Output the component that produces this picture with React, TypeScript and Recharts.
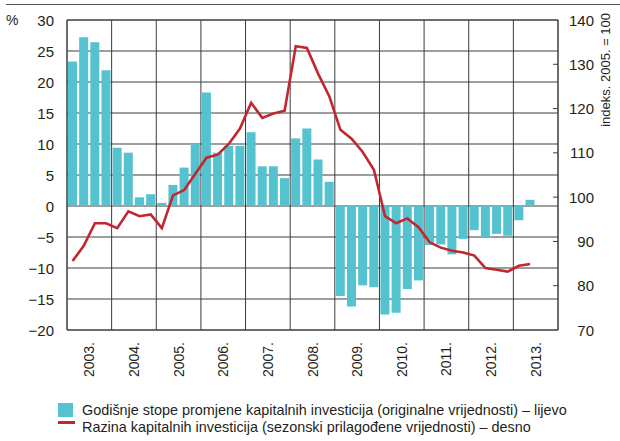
import React from 'react';
import { ComposedChart, Bar, Line, XAxis, YAxis, CartesianGrid, ReferenceArea } from 'recharts';

const years = ['2003.', '2004.', '2005.', '2006.', '2007.', '2008.', '2009.', '2010.', '2011.', '2012.', '2013.'];

// Annual rates of change of capital investment (original values), % – left axis, quarterly 2003Q1–2013Q2
const growthRates = [
  23.3, 27.2, 26.4, 21.9,
  9.4, 8.6, 1.4, 1.9,
  0.5, 3.4, 6.2, 10.0,
  18.3, 8.6, 9.7, 9.7,
  11.9, 6.4, 6.4, 4.5,
  10.9, 12.5, 7.5, 3.9,
  -14.5, -16.2, -12.8, -13.1,
  -17.5, -17.2, -13.4, -12.0,
  -6.3, -6.2, -7.8, -5.3,
  -3.9, -5.0, -4.5, -4.8,
  -2.3, 1.0,
];

// Level of capital investment (seasonally adjusted), index 2005 = 100 – right axis
const levelIndex = [
  85.6, 89.0, 94.1, 94.1,
  93.0, 96.8, 95.7, 96.1,
  93.0, 100.4, 101.6, 105.3,
  108.9, 109.6, 112.0, 115.5,
  121.3, 117.9, 118.9, 119.5,
  134.1, 133.7, 127.9, 122.8,
  115.2, 113.2, 110.2, 106.2,
  95.7, 94.1, 95.2, 93.2,
  89.8, 88.6, 87.9, 87.5,
  86.8, 84.0, 83.6, 83.2,
  84.5, 84.9,
];

const leftTicks = [-20, -15, -10, -5, 0, 5, 10, 15, 20, 25, 30];
const rightTicks = [70, 80, 90, 100, 110, 120, 130, 140];

const QUARTERS_PER_YEAR = 4;
const totalQuarters = years.length * QUARTERS_PER_YEAR;
const yearBoundaries = Array.from({ length: years.length + 1 }, (_, i) => i * QUARTERS_PER_YEAR);
const yearCenters = years.map((_, i) => i * QUARTERS_PER_YEAR + QUARTERS_PER_YEAR / 2);

const data = growthRates.map((g, i) => ({
  x: i + 0.5,
  growth: g,
  level: levelIndex[i],
}));

const FONT = '"Liberation Sans", Arial, sans-serif';
const TEXT_COLOR = '#231f20';
const BAR_COLOR = '#55c3cf';
const LINE_COLOR = '#c1272d';
const GRID_COLOR = '#3c3c3c';
const RIGHT_TICK_GAP = 36;

const YearTick = (props: any) => {
  const { x, y, payload } = props;
  const idx = yearCenters.indexOf(payload.value);
  const label = idx >= 0 ? years[idx] : '';
  return (
    <text
      x={x}
      y={y}
      transform={`rotate(-90, ${x}, ${y})`}
      textAnchor="end"
      dominantBaseline="central"
      fontFamily={FONT}
      fontSize={14}
      fill={TEXT_COLOR}
    >
      {label}
    </text>
  );
};

const LeftTick = (props: any) => {
  const { x, y, payload } = props;
  const v = payload.value;
  const label = v < 0 ? `\u2212${Math.abs(v)}` : `${v}`;
  return (
    <text x={x} y={y} textAnchor="end" dominantBaseline="central" fontFamily={FONT} fontSize={15} fill={TEXT_COLOR}>
      {label}
    </text>
  );
};

const RightTick = (props: any) => {
  const { x, y, payload } = props;
  const axisX = x - RIGHT_TICK_GAP;
  const v = payload.value;
  const edge = v === rightTicks[0] || v === rightTicks[rightTicks.length - 1];
  return (
    <g>
      {!edge && <line x1={axisX - 5} x2={axisX} y1={y} y2={y} stroke={GRID_COLOR} strokeWidth={1} />}
      <text x={x} y={y} textAnchor="end" dominantBaseline="central" fontFamily={FONT} fontSize={15} fill={TEXT_COLOR}>
        {v}
      </text>
    </g>
  );
};

export default function App() {
  return (
    <div style={{ position: 'absolute', left: 0, top: 0, width: 620, height: 441, background: '#fff', fontFamily: FONT, color: TEXT_COLOR }}>
      <div style={{ position: 'absolute', left: 6, top: 4, width: 614, height: 1, background: '#555' }} />
      <ComposedChart
        width={620}
        height={385}
        data={data}
        margin={{ top: 20, right: 0, left: 0, bottom: 0 }}
      >
        <CartesianGrid
          yAxisId="left"
          stroke={GRID_COLOR}
          strokeWidth={1}
          verticalValues={yearBoundaries}
        />
        <XAxis
          type="number"
          dataKey="x"
          domain={[0, totalQuarters]}
          ticks={yearCenters}
          interval={0}
          tickLine={false}
          axisLine={false}
          height={55}
          tickSize={0}
          tickMargin={12}
          tick={<YearTick />}
        />
        <YAxis
          yAxisId="left"
          domain={[-20, 30]}
          ticks={leftTicks}
          interval={0}
          width={67}
          axisLine={false}
          tickLine={false}
          tickSize={0}
          tickMargin={13}
          tick={<LeftTick />}
        />
        <YAxis
          yAxisId="right"
          orientation="right"
          domain={[70, 140]}
          ticks={rightTicks}
          interval={0}
          width={62}
          axisLine={false}
          tickLine={false}
          tickSize={0}
          tickMargin={RIGHT_TICK_GAP}
          tick={<RightTick />}
        />
        <Bar yAxisId="left" dataKey="growth" fill={BAR_COLOR} barSize={9} isAnimationActive={false} />
        <Line
          yAxisId="right"
          type="linear"
          dataKey="level"
          stroke={LINE_COLOR}
          strokeWidth={2.6}
          dot={false}
          isAnimationActive={false}
        />
        <ReferenceArea
          yAxisId="left"
          x1={0}
          x2={totalQuarters}
          y1={-20}
          y2={30}
          fill="none"
          stroke={GRID_COLOR}
          strokeWidth={1}
          ifOverflow="visible"
        />
      </ComposedChart>
      <svg width={620} height={441} style={{ position: 'absolute', left: 0, top: 0, pointerEvents: 'none' }}>
        <text x={6} y={20} dominantBaseline="central" fontFamily={FONT} fontSize={14} fill={TEXT_COLOR}>%</text>
        <text
          x={605}
          y={13}
          transform="rotate(-90, 605, 13)"
          textAnchor="end"
          dominantBaseline="central"
          fontFamily={FONT}
          fontSize={13}
          fill={TEXT_COLOR}
        >
          indeks. 2005. = 100
        </text>
      </svg>
      <div style={{ position: 'absolute', left: 58, top: 403, width: 15, height: 14, background: BAR_COLOR }} />
      <div style={{ position: 'absolute', left: 82, top: 401, height: 18, lineHeight: '18px', fontSize: 14.4, whiteSpace: 'nowrap' }}>
        Godišnje stope promjene kapitalnih investicija (originalne vrijednosti) – lijevo
      </div>
      <div style={{ position: 'absolute', left: 58, top: 421, width: 17, height: 2.5, background: LINE_COLOR }} />
      <div style={{ position: 'absolute', left: 82, top: 418, height: 18, lineHeight: '18px', fontSize: 14.4, whiteSpace: 'nowrap' }}>
        Razina kapitalnih investicija (sezonski prilagođene vrijednosti) – desno
      </div>
    </div>
  );
}
